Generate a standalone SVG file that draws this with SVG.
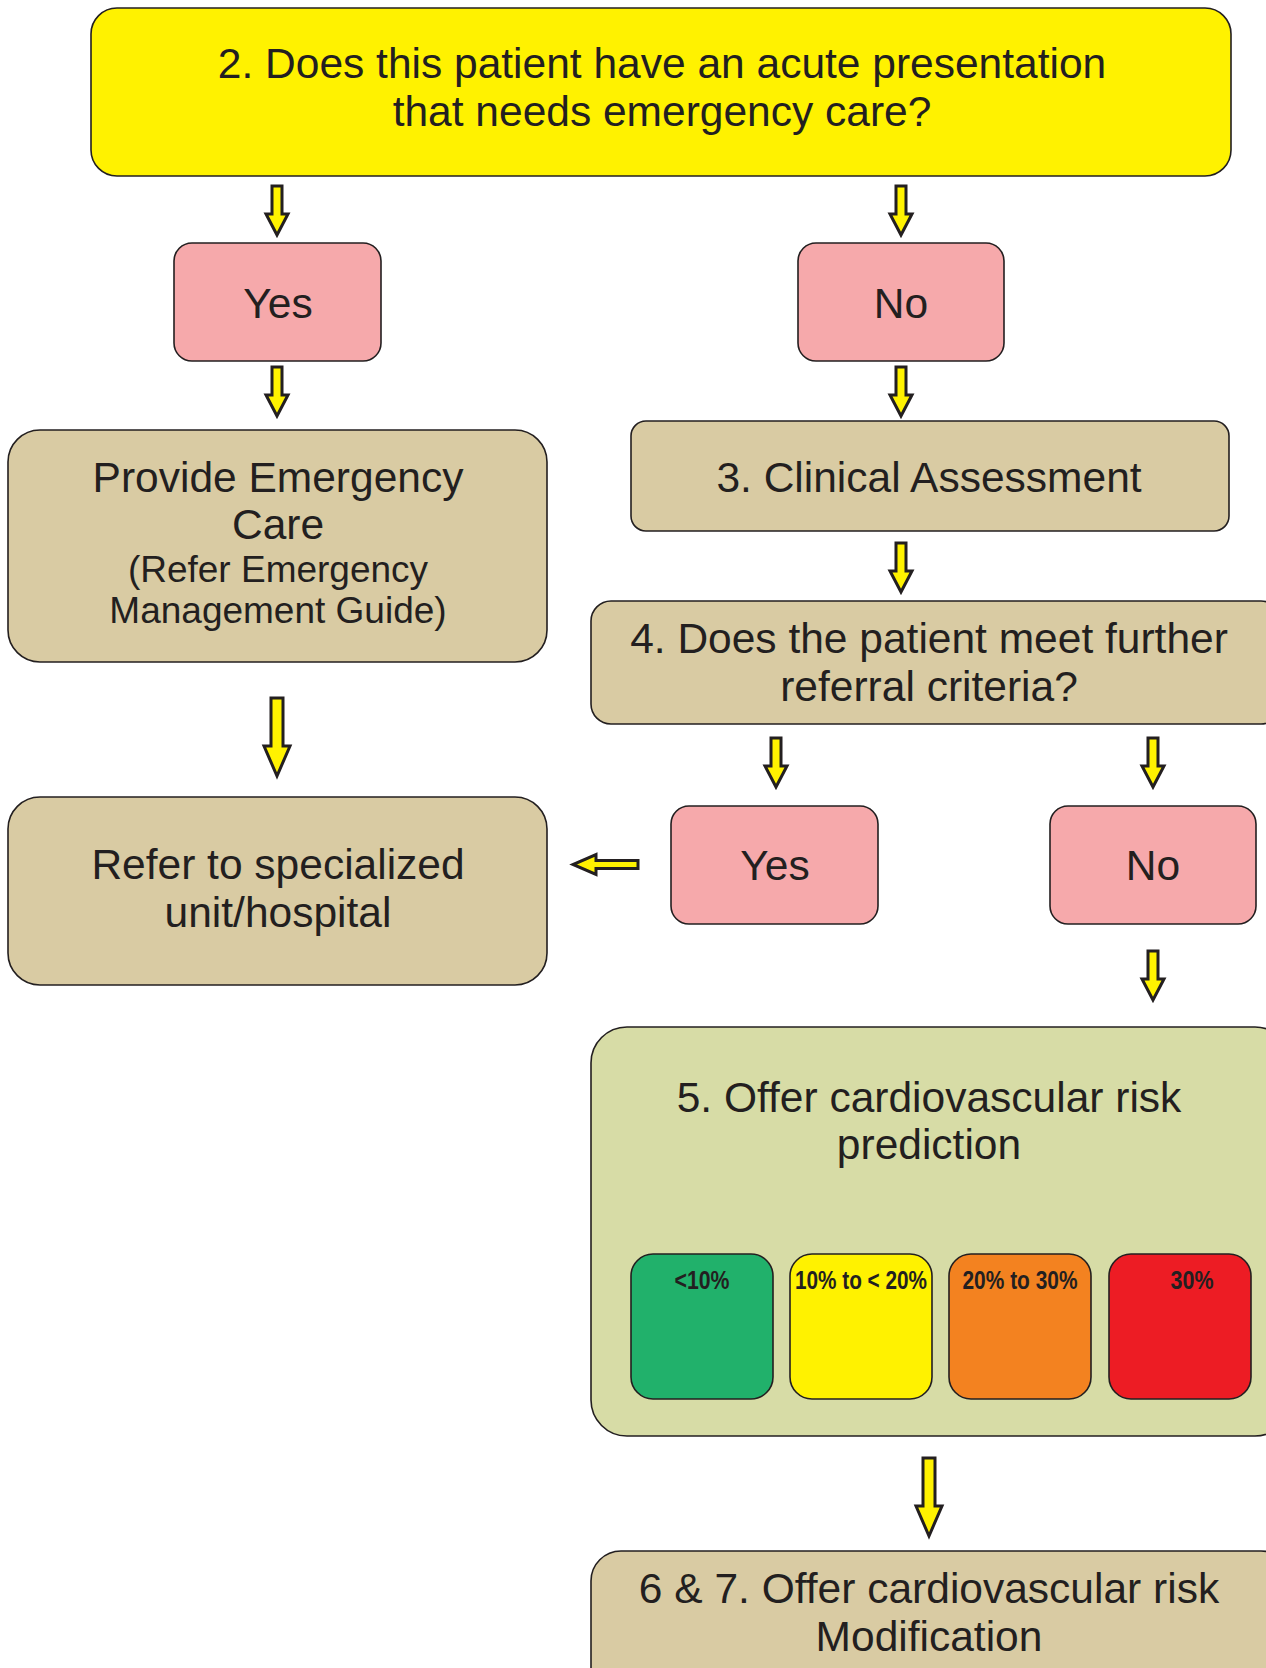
<svg xmlns="http://www.w3.org/2000/svg" width="1266" height="1668" viewBox="0 0 1266 1668">
<style>
.box{stroke:#231f20;stroke-width:1.6}
.tan{fill:#d9cba3}
.pink{fill:#f6a9ab}
.t{font-family:"Liberation Sans",Arial,sans-serif;fill:#231f20;text-anchor:middle}
.big{font-size:42.5px}
.mid{font-size:37px}
.risk{font-size:25px;font-weight:bold}
.arr{fill:#fff200;stroke:#231f20;stroke-width:3;stroke-linejoin:miter}
</style>
<defs>
<path id="sdown" class="arr" d="M-5,0 H5 V28 H11 L0,49 L-11,28 H-5 Z"/>
<path id="bdown" class="arr" d="M-6,0 H6 V48 H13 L0,78 L-13,48 H-6 Z"/>
</defs>
<rect width="1266" height="1668" fill="#ffffff"/>

<g id="q2">
<rect class="box" x="91" y="8" width="1140" height="168" rx="26" fill="#fff200"/>
<text class="t big" x="662" y="78">2. Does this patient have an acute presentation</text>
<text class="t big" x="662" y="126">that needs emergency care?</text>
</g>

<g id="yes1">
<rect class="box pink" x="174" y="243" width="207" height="118" rx="18"/>
<text class="t big" x="278" y="318">Yes</text>
</g>

<g id="no1">
<rect class="box pink" x="798" y="243" width="206" height="118" rx="18"/>
<text class="t big" x="901" y="318">No</text>
</g>

<g id="emergency">
<rect class="box tan" x="8" y="430" width="539" height="232" rx="32"/>
<text class="t big" x="278" y="492">Provide Emergency</text>
<text class="t big" x="278" y="539">Care</text>
<text class="t mid" x="278" y="582">(Refer Emergency</text>
<text class="t mid" x="278" y="623">Management Guide)</text>
</g>

<g id="clinical">
<rect class="box tan" x="631" y="421" width="598" height="110" rx="15"/>
<text class="t big" x="929" y="492">3. Clinical Assessment</text>
</g>

<g id="q4">
<rect class="box tan" x="591" y="601" width="690" height="123" rx="20"/>
<text class="t big" x="929" y="653">4. Does the patient meet further</text>
<text class="t big" x="929" y="701">referral criteria?</text>
</g>

<g id="yes2">
<rect class="box pink" x="671" y="806" width="207" height="118" rx="18"/>
<text class="t big" x="775" y="880">Yes</text>
</g>

<g id="no2">
<rect class="box pink" x="1050" y="806" width="206" height="118" rx="18"/>
<text class="t big" x="1153" y="880">No</text>
</g>

<g id="refer">
<rect class="box tan" x="8" y="797" width="539" height="188" rx="32"/>
<text class="t big" x="278" y="879">Refer to specialized</text>
<text class="t big" x="278" y="927">unit/hospital</text>
</g>

<g id="risk">
<rect class="box" x="591" y="1027" width="700" height="409" rx="36" fill="#d7dca6"/>
<text class="t big" x="929" y="1112">5. Offer cardiovascular risk</text>
<text class="t big" x="929" y="1159">prediction</text>
<rect class="box" x="631" y="1254" width="142" height="145" rx="22" fill="#21b16b"/>
<rect class="box" x="790" y="1254" width="142" height="145" rx="22" fill="#fff200"/>
<rect class="box" x="949" y="1254" width="142" height="145" rx="22" fill="#f38220"/>
<rect class="box" x="1109" y="1254" width="142" height="145" rx="22" fill="#ed1c24"/>
<text class="t risk" x="702" y="1289" textLength="55" lengthAdjust="spacingAndGlyphs">&lt;10%</text>
<text class="t risk" x="861" y="1289" textLength="132" lengthAdjust="spacingAndGlyphs">10% to &lt; 20%</text>
<text class="t risk" x="1020" y="1289" textLength="115" lengthAdjust="spacingAndGlyphs">20% to 30%</text>
<text class="t risk" x="1192" y="1289" textLength="43" lengthAdjust="spacingAndGlyphs">30%</text>
</g>

<g id="modify">
<rect class="box tan" x="591" y="1551" width="700" height="160" rx="30"/>
<text class="t big" x="929" y="1603">6 &amp; 7. Offer cardiovascular risk</text>
<text class="t big" x="929" y="1651">Modification</text>
</g>

<g id="connectors">
<use href="#sdown" x="277" y="186"/>
<use href="#sdown" x="901" y="186"/>
<use href="#sdown" x="277" y="367"/>
<use href="#sdown" x="901" y="367"/>
<use href="#sdown" x="901" y="543"/>
<use href="#sdown" x="776" y="738"/>
<use href="#sdown" x="1153" y="738"/>
<use href="#sdown" x="1153" y="951"/>
<use href="#bdown" x="277" y="698"/>
<use href="#bdown" x="929" y="1458"/>
<path class="arr" d="M638,860.5 V868.5 H596 V874.5 L573,864.5 L596,854.5 V860.5 Z"/>
</g>
</svg>
